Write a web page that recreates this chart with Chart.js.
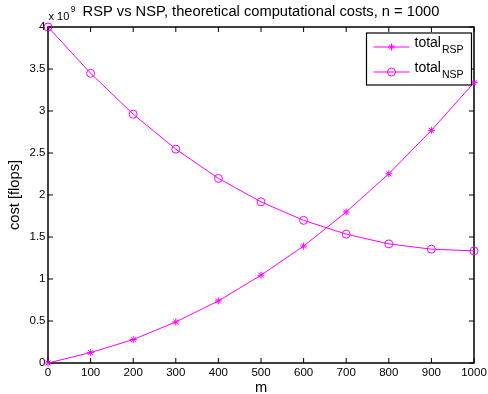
<!DOCTYPE html>
<html>
<head>
<meta charset="utf-8">
<title>RSP vs NSP</title>
<script src="https://cdn.jsdelivr.net/npm/chart.js@4/dist/chart.umd.min.js"></script>
<style>
  html, body { margin: 0; padding: 0; background: #fff; }
  canvas { display: block; }
</style>
</head>
<body>
<canvas id="cost-chart" width="488" height="394"></canvas>
<script>
// Data (costs in units of 1e9 flops, as on the axis)
const mValues = [0, 100, 200, 300, 400, 500, 600, 700, 800, 900, 1000];
const totalRSP = [0, 0.124, 0.279, 0.489, 0.739, 1.045, 1.392, 1.797, 2.253, 2.770, 3.337];
const totalNSP = [4.0, 3.449, 2.962, 2.546, 2.198, 1.918, 1.698, 1.534, 1.418, 1.355, 1.335];
const seriesSubs = ['RSP', 'NSP'];
const xTicks = [0, 100, 200, 300, 400, 500, 600, 700, 800, 900, 1000];
const yTicks = [0, 0.5, 1, 1.5, 2, 2.5, 3, 3.5, 4];
const chartTitle = 'RSP vs NSP, theoretical computational costs, n = 1000';

const FONT = '"Liberation Sans", Arial, Helvetica, sans-serif';
const MAGENTA = '#ff00ff';

function toPoints(ys) {
    return mValues.map((m, i) => ({ x: m, y: ys[i] }));
}

// simple marker drawing for the legend (same shapes as chart points)
function drawMarker(ctx, style, x, y, r) {
    ctx.beginPath();
    if (style === 'star') {
        const d = r * Math.SQRT1_2;
        ctx.moveTo(x - d, y - d); ctx.lineTo(x + d, y + d);
        ctx.moveTo(x - d, y + d); ctx.lineTo(x + d, y - d);
        ctx.moveTo(x - r, y); ctx.lineTo(x + r, y);
        ctx.moveTo(x, y - r); ctx.lineTo(x, y + r);
    } else {
        ctx.arc(x, y, r, 0, Math.PI * 2);
    }
    ctx.stroke();
}

// MATLAB-like box, inward ticks, exponent label and legend
const matlabAxes = {
    id: 'matlabAxes',
    beforeDatasetsDraw(chart) {
        const { ctx, chartArea: a, scales: { x, y } } = chart;
        ctx.save();
        ctx.strokeStyle = '#000';
        ctx.lineWidth = 1.5;
        ctx.beginPath();
        ctx.rect(a.left, a.top, a.right - a.left, a.bottom - a.top);
        ctx.stroke();
        ctx.lineWidth = 1;
        ctx.beginPath();
        xTicks.forEach(v => {
            const px = x.getPixelForValue(v);
            ctx.moveTo(px, a.bottom); ctx.lineTo(px, a.bottom - 5);
            ctx.moveTo(px, a.top); ctx.lineTo(px, a.top + 5);
        });
        yTicks.forEach(v => {
            const py = y.getPixelForValue(v);
            ctx.moveTo(a.left, py); ctx.lineTo(a.left + 5, py);
            ctx.moveTo(a.right, py); ctx.lineTo(a.right - 5, py);
        });
        ctx.stroke();

        // "x 10^9"
        ctx.fillStyle = '#000';
        ctx.textBaseline = 'alphabetic';
        ctx.textAlign = 'left';
        ctx.font = `11px ${FONT}`;
        ctx.fillText('x 10', a.left + 0.5, 20);
        const w = ctx.measureText('x 10').width;
        ctx.font = `8.5px ${FONT}`;
        ctx.fillText('9', a.left + w + 2, 12);
        ctx.restore();
    },
    afterDatasetsDraw(chart) {
        const { ctx, chartArea: a } = chart;
        const right = a.right - 2.5, top = a.top + 6;
        const boxW = 105, boxH = 52;
        const left = right - boxW;
        ctx.save();
        ctx.fillStyle = '#fff';
        ctx.fillRect(left, top, boxW, boxH);
        ctx.strokeStyle = '#000';
        ctx.lineWidth = 1.2;
        ctx.strokeRect(left, top, boxW, boxH);

        chart.data.datasets.forEach((ds, i) => {
            const rowY = top + 14 + i * 25;
            ctx.strokeStyle = ds.borderColor;
            ctx.lineWidth = 1;
            ctx.beginPath();
            ctx.moveTo(left + 7, rowY); ctx.lineTo(left + 43, rowY);
            ctx.stroke();
            drawMarker(ctx, ds.pointStyle, left + 25, rowY, ds.pointRadius);

            ctx.fillStyle = '#000';
            ctx.textAlign = 'left';
            ctx.textBaseline = 'alphabetic';
            ctx.font = `14px ${FONT}`;
            ctx.fillText('total', left + 48, rowY);
            const tw = ctx.measureText('total').width;
            ctx.font = `10.5px ${FONT}`;
            ctx.fillText(seriesSubs[i], left + 48 + tw + 1, rowY + 5.5);
        });
        ctx.restore();
    }
};

new Chart(document.getElementById('cost-chart'), {
    type: 'line',
    data: {
        datasets: [{
            label: 'totalRSP',
            data: toPoints(totalRSP),
            borderColor: MAGENTA,
            backgroundColor: 'rgba(0,0,0,0)',
            borderWidth: 1,
            pointStyle: 'star',
            pointRadius: 3.5,
            pointBorderWidth: 1,
            pointBorderColor: MAGENTA,
            tension: 0,
            clip: false
        }, {
            label: 'totalNSP',
            data: toPoints(totalNSP),
            borderColor: MAGENTA,
            backgroundColor: 'rgba(0,0,0,0)',
            borderWidth: 1,
            pointStyle: 'circle',
            pointRadius: 4,
            pointBorderWidth: 1,
            pointBorderColor: MAGENTA,
            pointBackgroundColor: 'rgba(0,0,0,0)',
            tension: 0,
            clip: false
        }]
    },
    options: {
        responsive: false,
        devicePixelRatio: 1,
        animation: false,
        events: [],
        layout: { padding: { left: 0, right: 14, top: 0, bottom: 0 } },
        plugins: {
            legend: { display: false },
            tooltip: { enabled: false },
            title: {
                display: true,
                text: chartTitle,
                color: '#000',
                fullSize: false,
                font: { family: FONT, size: 14.7, weight: 'normal', lineHeight: 1.2 },
                padding: { top: 3, bottom: 6.36 }
            }
        },
        scales: {
            x: {
                type: 'linear',
                min: 0,
                max: 1000,
                afterBuildTicks: s => { s.ticks = xTicks.map(v => ({ value: v })); },
                afterFit: s => { s.height = 31; s.paddingLeft = 0; s.paddingRight = 0; },
                grid: { display: false, drawTicks: false },
                border: { display: false },
                ticks: {
                    color: '#000',
                    font: { family: FONT, size: 11.5 },
                    padding: 3,
                    maxRotation: 0,
                    callback: v => String(v)
                },
                title: {
                    display: true,
                    text: 'm',
                    color: '#000',
                    font: { family: FONT, size: 14.7, lineHeight: 1 },
                    padding: { top: 0, bottom: -1 }
                }
            },
            y: {
                type: 'linear',
                min: 0,
                max: 4,
                afterBuildTicks: s => { s.ticks = yTicks.map(v => ({ value: v })); },
                afterFit: s => { s.width = 48; s.paddingTop = 0; s.paddingBottom = 0; },
                grid: { display: false, drawTicks: false },
                border: { display: false },
                ticks: {
                    color: '#000',
                    font: { family: FONT, size: 11.5 },
                    padding: 2.5,
                    callback: v => String(v)
                },
                title: {
                    display: true,
                    text: 'cost [flops]',
                    color: '#000',
                    font: { family: FONT, size: 14.7, lineHeight: 1.2 },
                    padding: { top: 6, bottom: 0 }
                }
            }
        }
    },
    plugins: [matlabAxes]
});
</script>
</body>
</html>
